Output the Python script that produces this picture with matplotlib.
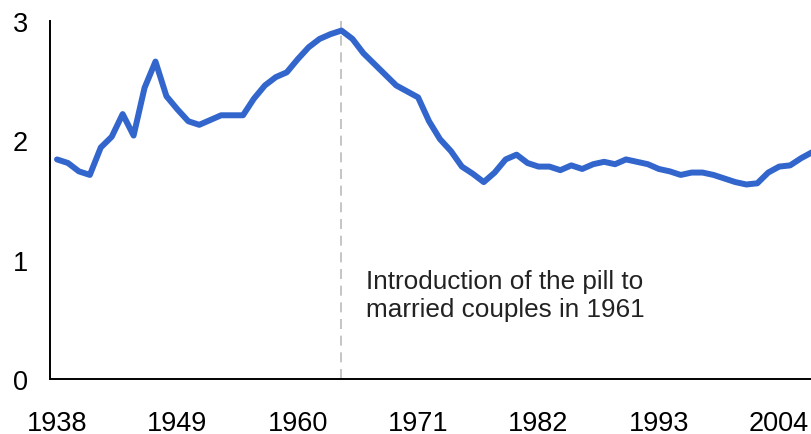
import matplotlib.pyplot as plt

plt.rcParams['font.family'] = ['Liberation Sans', 'DejaVu Sans']

years = list(range(1938, 2008))
fertility = [1.84, 1.81, 1.74, 1.71, 1.94, 2.03, 2.22, 2.04, 2.44, 2.66,
             2.37, 2.26, 2.16, 2.13, 2.17, 2.21, 2.21, 2.21, 2.35, 2.46,
             2.53, 2.57, 2.68, 2.78, 2.85, 2.89, 2.92, 2.85, 2.73, 2.64,
             2.55, 2.46, 2.41, 2.36, 2.16, 2.01, 1.91, 1.78, 1.72, 1.65,
             1.73, 1.84, 1.88, 1.81, 1.78, 1.78, 1.75, 1.79, 1.76, 1.80,
             1.82, 1.80, 1.84, 1.82, 1.80, 1.76, 1.74, 1.71, 1.73, 1.73,
             1.71, 1.68, 1.65, 1.63, 1.64, 1.73, 1.78, 1.79, 1.85, 1.90]
tick_years = [1938, 1949, 1960, 1971, 1982, 1993, 2004]
y_ticks = [0, 1, 2, 3]
pill_year = 1964
note = "Introduction of the pill to\nmarried couples in 1961"

fig = plt.figure(figsize=(8.12, 4.35), dpi=100)
ax = fig.add_axes([50 / 812, 55 / 435, 1 - 50 / 812, (380 - 22) / 435])

ax.plot(years, fertility, color='#3366cc', lw=4.3, solid_capstyle='round',
        solid_joinstyle='round', zorder=3)
ax.axvline(pill_year, color='#bbbbbb', lw=1.2, ls=(0, (6, 4)), zorder=2)
ax.text(1966.25, 0.528, note, fontsize=18.8, color='#222222',
        va='baseline', ha='left', linespacing=1.22)

ax.set_xlim(1937.36, 2007.0)
ax.set_ylim(0, 3)
ax.set_xticks(tick_years)
ax.set_yticks(y_ticks)
ax.tick_params(axis='x', length=0, pad=22, labelsize=19.5)
ax.tick_params(axis='y', length=0, pad=16, labelsize=19.5)
for s in ['top', 'right']:
    ax.spines[s].set_visible(False)
for s in ['left', 'bottom']:
    ax.spines[s].set_linewidth(1.4)
    ax.spines[s].set_color('black')

fig.savefig('out.png', dpi=100)
